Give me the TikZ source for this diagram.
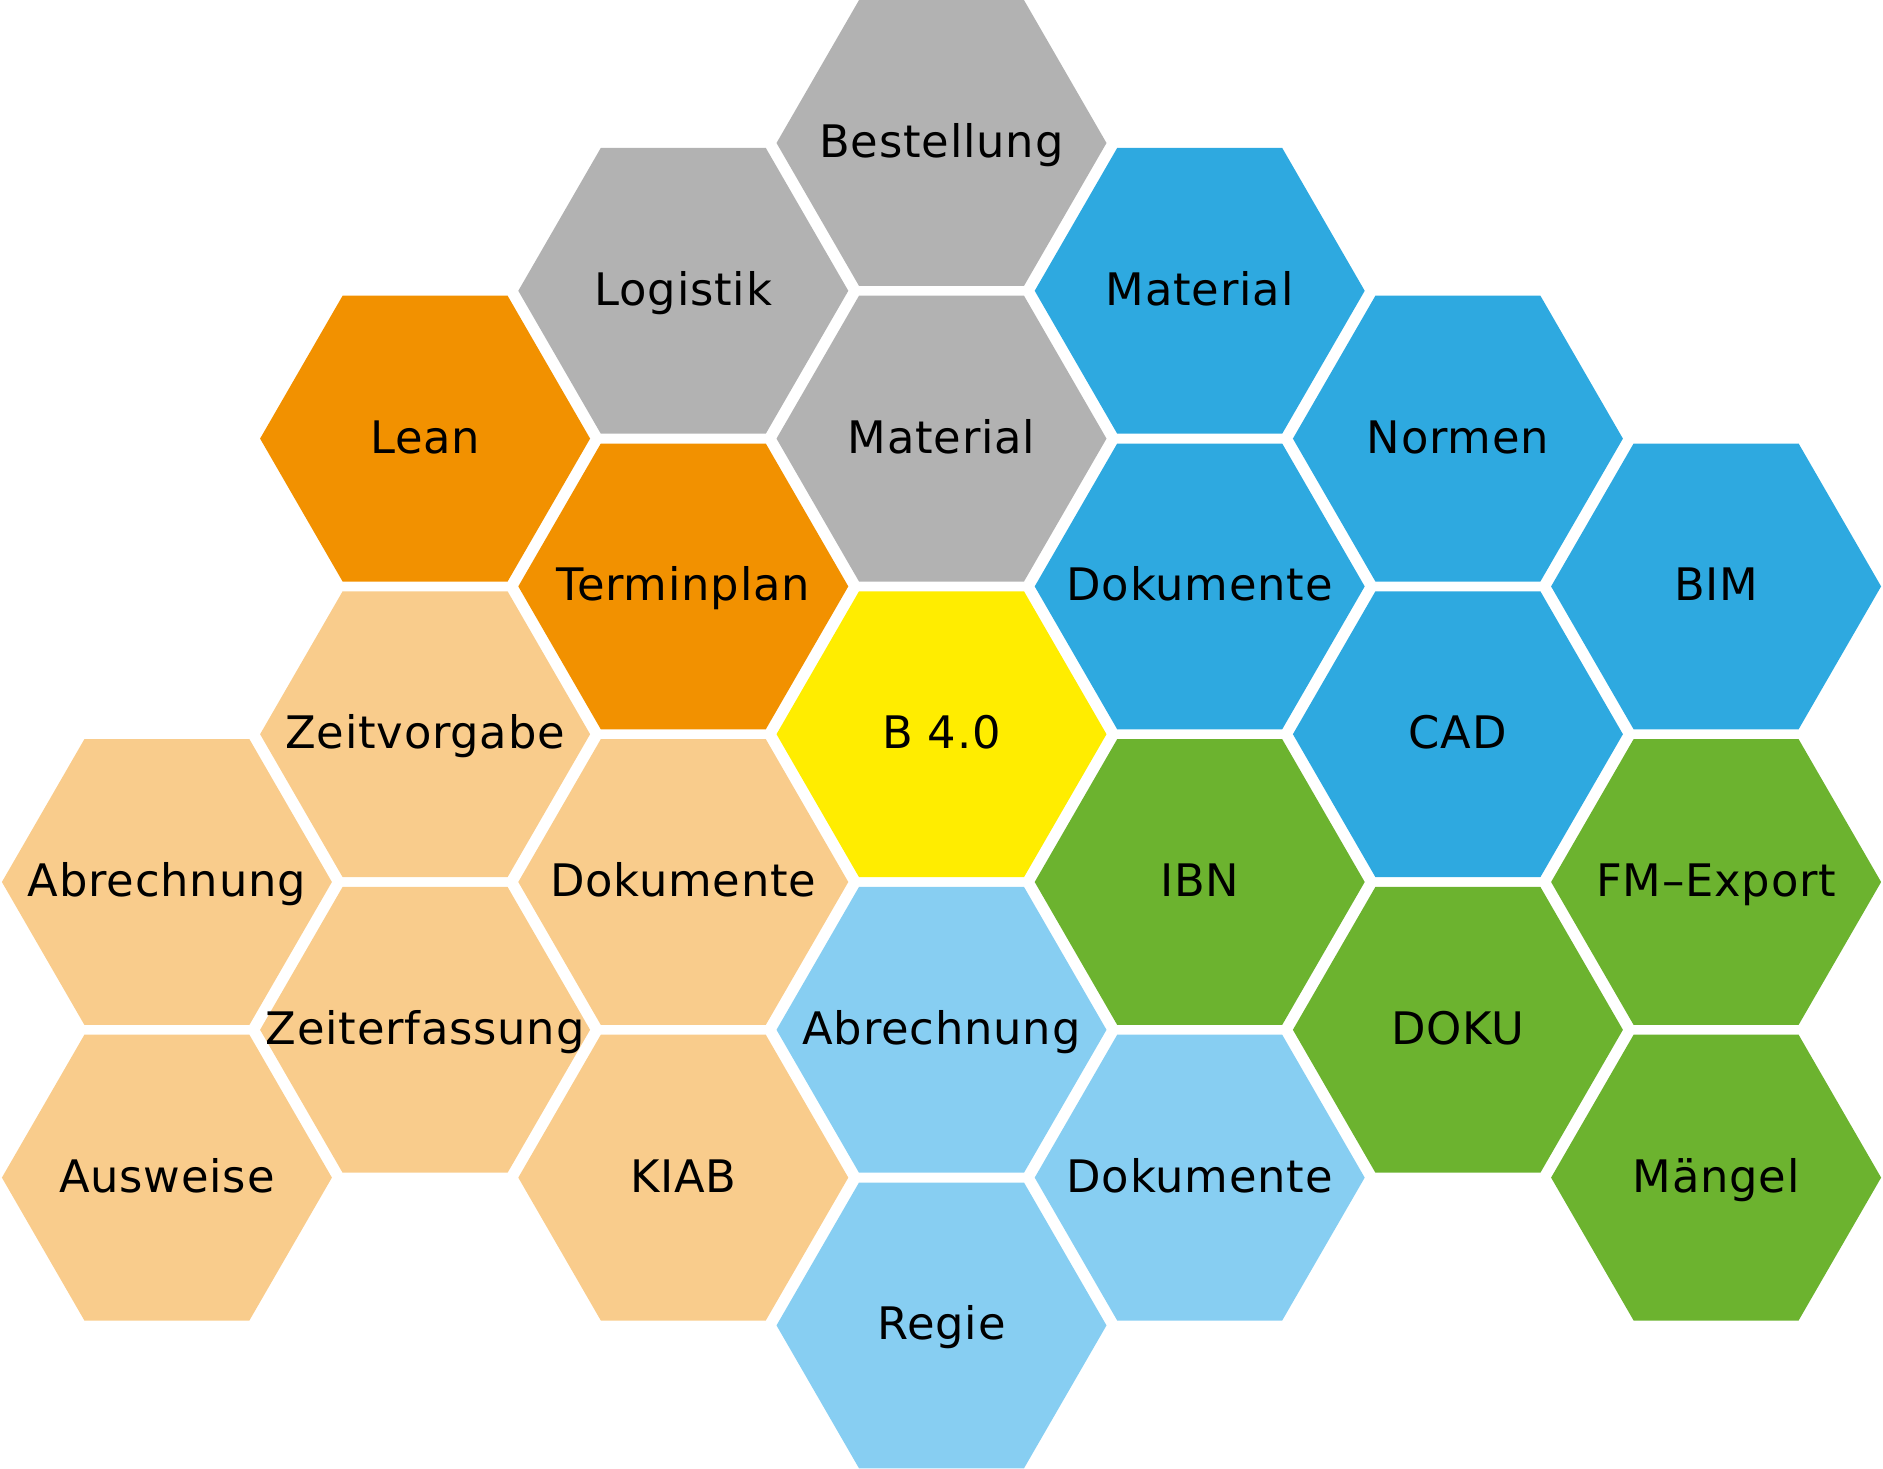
\documentclass[tikz,border=0pt]{standalone}
\usepackage{fontspec}
\setmainfont[LetterSpace=1.8]{DejaVu Sans}
\usetikzlibrary{shapes.geometric}
\definecolor{cgray}{HTML}{B2B2B2}
\definecolor{cblue}{HTML}{2EA9E0}
\definecolor{corange}{HTML}{F29100}
\definecolor{clorange}{HTML}{F9CC8C}
\definecolor{cyellow}{HTML}{FFED00}
\definecolor{clblue}{HTML}{87CEF2}
\definecolor{cgreen}{HTML}{6CB32F}
\tikzset{
  hexa/.style={regular polygon, regular polygon sides=6, minimum size=330pt, inner sep=0pt, outer sep=0pt, draw=none},
  lbl/.style={anchor=base, inner sep=0pt, text=black, font=\fontsize{44.8}{54}\selectfont}
}
\begin{document}
\begin{tikzpicture}[x=1pt,y=-1pt]
\useasboundingbox (0,0) rectangle (1883,1468);
\def\cells{hBest/3/0/cgray/Bestellung,
  hLog/2/1/cgray/Logistik,
  hMatB/4/1/cblue/Material,
  hLean/1/2/corange/Lean,
  hMatG/3/2/cgray/Material,
  hNorm/5/2/cblue/Normen,
  hTerm/2/3/corange/Terminplan,
  hDokB/4/3/cblue/Dokumente,
  hBIM/6/3/cblue/BIM,
  hZeitv/1/4/clorange/Zeitvorgabe,
  hB/3/4/cyellow/B 4.0,
  hCAD/5/4/cblue/CAD,
  hAbrO/0/5/clorange/Abrechnung,
  hDokO/2/5/clorange/Dokumente,
  hIBN/4/5/cgreen/IBN,
  hFM/6/5/cgreen/FM–Export,
  hZeite/1/6/clorange/Zeiterfassung,
  hAbrL/3/6/clblue/Abrechnung,
  hDOKU/5/6/cgreen/DOKU,
  hAusw/0/7/clorange/Ausweise,
  hKIAB/2/7/clorange/KIAB,
  hDokL/4/7/clblue/Dokumente,
  hMaen/6/7/cgreen/Mängel,
  hRegie/3/8/clblue/Regie}
\foreach \n/\c/\r/\col/\t in \cells {
  \node[hexa, fill=\col] (\n) at ({166.9+258.2*\c},{143+147.8*\r}) {};
}
\foreach \n/\c/\r/\col/\t in \cells {
  \node[lbl] (\n-t) at ({166.9+258.2*\c},{143+147.8*\r+14.5}) {\t};
}
\end{tikzpicture}
\end{document}
